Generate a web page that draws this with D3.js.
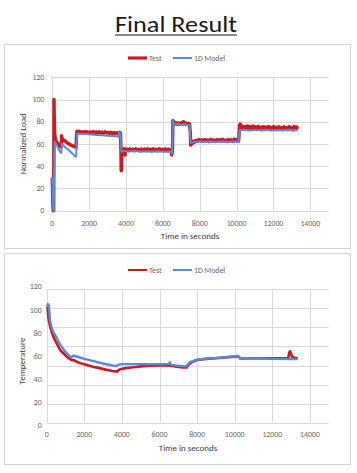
<!DOCTYPE html>
<html><head><meta charset="utf-8">
<script src="https://cdn.jsdelivr.net/npm/d3@7/dist/d3.min.js"></script>
<style>html,body{margin:0;padding:0;background:#fff;}svg{display:block;font-family:Carlito,Calibri,Lato,"Open Sans",sans-serif;}</style>
</head><body><svg id="c" width="357" height="473"></svg>
<script>
const xTicks = [0,2000,4000,6000,8000,10000,12000,14000];
const yTicks = [0,20,40,60,80,100,120];
const seriesNames = ["Test","1D Model"];

const loadTest = [[0,30],[25,8],[45,0],[75,0],[92,100],[105,85],[125,72],[150,66],[190,63],[250,61.5],[320,60],[380,58.5],[440,57.5],[490,58],[505,67.5],[530,65],[580,64],[650,63],[720,62.5],[800,61],[870,60.5],[950,59.5],[1030,59],[1100,58.3],[1180,57.8],[1260,57.2],[1290,57],[1310,66],[1340,71.5],[1400,70.2],[1460,71.4],[1520,70.1],[1600,71],[1680,69.9],[1750,71.2],[1830,70.3],[1900,71.1],[1980,69.8],[2060,70.9],[2140,70],[2220,71.3],[2300,70.1],[2380,70.8],[2460,69.7],[2540,71],[2620,70.2],[2700,70.7],[2780,69.6],[2860,70.9],[2940,69.9],[3020,70.5],[3100,69.4],[3180,70.6],[3260,69.5],[3340,70.4],[3420,69.3],[3500,70.2],[3580,69.2],[3650,70.5],[3700,70],[3725,55],[3740,36],[3760,38],[3780,55],[3840,54],[3900,55.8],[3950,50],[3975,54.5],[4050,55.5],[4130,54.2],[4210,55.7],[4290,54.5],[4370,55.4],[4450,54],[4530,55.6],[4610,54.4],[4690,55.2],[4770,53.9],[4850,55.5],[4930,54.3],[5010,55.4],[5090,54.1],[5170,55.7],[5250,54.5],[5330,55.2],[5410,54],[5490,55.6],[5570,54.3],[5650,55.3],[5730,54],[5810,55.7],[5890,54.4],[5970,55.3],[6050,54.1],[6130,55.6],[6210,54.3],[6290,55.4],[6370,54.2],[6440,55],[6480,50],[6520,54],[6545,81],[6600,79.5],[6660,78],[6720,79],[6790,77.6],[6860,78.8],[6930,77.9],[7000,79.2],[7060,78],[7120,80],[7170,78.2],[7240,78.9],[7310,77.7],[7380,78.6],[7450,77.8],[7490,70],[7510,59],[7540,62],[7580,60],[7640,62.5],[7720,61.6],[7800,63.4],[7880,62.3],[7960,64],[8040,62.6],[8120,63.8],[8200,62.4],[8280,64.1],[8360,62.7],[8440,63.6],[8520,62.3],[8600,64.2],[8680,62.8],[8760,63.5],[8840,62.2],[8920,64],[9000,62.6],[9080,63.9],[9160,62.4],[9240,64.3],[9320,62.7],[9400,63.6],[9480,62.3],[9560,64.1],[9640,62.8],[9720,63.7],[9800,62.2],[9880,64.4],[9960,62.9],[10040,64],[10110,62.5],[10140,70],[10160,76.5],[10200,78],[10260,74.5],[10330,76],[10400,74.2],[10470,75.8],[10540,73.9],[10610,76.2],[10680,74.3],[10750,75.6],[10820,73.8],[10890,76.1],[10960,74.2],[11030,75.5],[11100,73.6],[11170,75.9],[11240,74],[11310,75.3],[11380,72.8],[11450,75.6],[11520,73.9],[11590,75.2],[11660,73.5],[11730,75.8],[11800,73.7],[11870,75.1],[11940,73.4],[12010,75.7],[12080,73.6],[12150,75],[12220,73.2],[12290,75.5],[12360,73.5],[12430,74.9],[12500,73.1],[12570,75.4],[12640,73.3],[12710,74.8],[12780,72.8],[12850,75.6],[12920,73.2],[12990,74.9],[13060,72.6],[13130,75.8],[13200,73],[13270,75.2],[13330,73.5]];

const loadModel = [[0,30],[30,10],[50,0],[80,0],[100,30],[125,62],[180,61],[260,58.5],[340,55.5],[420,53],[470,52],[495,52.5],[515,60],[580,59],[680,57.5],[780,56],[880,54.5],[980,53],[1080,51.5],[1180,50],[1270,48.5],[1300,50],[1330,66],[1360,69.5],[1500,69.2],[1800,68.9],[2100,68.6],[2400,68.2],[2700,67.9],[3000,67.5],[3300,67.1],[3550,66.7],[3600,66.5],[3620,70.5],[3690,70.5],[3720,62],[3750,53],[3900,53.8],[4200,53.2],[4500,53.6],[4800,53.1],[5100,53.5],[5400,53],[5700,53.4],[6000,53.1],[6300,53.3],[6460,53],[6500,51],[6530,72],[6550,80.5],[6600,78.5],[6800,77.8],[7100,77.6],[7400,77.4],[7460,77],[7490,65],[7520,61],[7700,61.8],[8000,62.2],[8300,61.7],[8600,62.3],[8900,61.8],[9200,62.2],[9500,61.7],[9800,62.1],[10100,62],[10130,66],[10170,72.5],[10400,72.8],[10700,72.2],[11000,72.9],[11300,72.3],[11600,72.8],[11900,72.2],[12200,72.7],[12500,72.3],[12800,72.8],[13100,72.3],[13330,72.6]];

const tempTest = [[20,101],[50,102],[70,96],[110,91],[176,86],[260,81],[350,77],[450,73.5],[532,71],[650,67],[750,64.5],[883,62.4],[1000,60.5],[1150,58.3],[1330,56.4],[1450,56.5],[1600,55],[1800,53.8],[2000,52.8],[2400,51],[2800,49.5],[3200,48],[3500,47],[3750,46.5],[3800,47.5],[3900,48.5],[4200,49.5],[4600,50.3],[5000,51],[5500,51.5],[6000,51.8],[6500,52],[6600,51.5],[7000,50.5],[7300,50],[7450,50],[7550,52.5],[7700,54.5],[8000,56.5],[8500,57.5],[9000,58],[9500,58.8],[10000,59.3],[10200,59.6],[10300,58],[11000,57.8],[12000,58],[12850,58.3],[12900,63],[12950,64],[13000,62],[13050,59.5],[13150,58.5],[13350,58]];

const tempModel = [[20,103],[60,105],[110,104],[150,96],[176,90.7],[260,85],[350,81],[450,78],[532,75.8],[650,71.5],[750,69],[883,66],[1000,63.5],[1150,61],[1330,58.8],[1400,60.3],[1500,60],[1800,58.5],[2000,57.5],[2500,55.5],[3000,53.5],[3500,51.8],[3700,51.2],[3800,52.5],[4000,53],[5000,53],[6000,53],[6500,53.2],[6550,54.5],[6600,52.5],[7000,51.5],[7400,51],[7500,52.5],[7650,55],[8000,56.8],[8500,57.8],[9000,58.3],[9500,59],[10000,59.8],[10200,60],[10300,57.5],[11000,57.5],[12000,57.5],[13000,57.3],[13350,57.3]];

const RED = "#cc1a1f", BLUE = "#5a8ad6", GRID = "#d9d9d9", TICK = "#666666", TITLE = "#404040";
const svg = d3.select("#c");

// Title
svg.append("text").attr("x",176).attr("y",32).attr("text-anchor","middle")
  .attr("font-size",23).attr("font-weight",400).attr("fill","#1a1a1a").attr("textLength",122).attr("lengthAdjust","spacingAndGlyphs").text("Final Result");
svg.append("line").attr("x1",115).attr("x2",237).attr("y1",35).attr("y2",35).attr("stroke","#1a1a1a").attr("stroke-width",1.2);

// panels
svg.append("rect").attr("x",4.5).attr("y",44.5).attr("width",346).attr("height",204).attr("fill","none").attr("stroke","#d4d4d4");
svg.append("rect").attr("x",4.5).attr("y",253.5).attr("width",346).attr("height",211).attr("fill","none").attr("stroke","#d4d4d4");

function chart(cfg){
  const g = svg.append("g");
  const x = d3.scaleLinear().domain([0,15000]).range([cfg.x0, cfg.x1]);
  const y = d3.scaleLinear().domain([0,120]).range([cfg.y0, cfg.y1]);
  const grid = d3.scaleLinear().domain([0,cfg.nGrid]).range([cfg.gy0, cfg.gy1]);
  g.selectAll(".hg").data(d3.range(cfg.nGrid+1)).join("line")
    .attr("x1",cfg.x0).attr("x2",cfg.x1).attr("y1",d=>Math.round(grid(d))+0.5).attr("y2",d=>Math.round(grid(d))+0.5)
    .attr("stroke",GRID).attr("stroke-width",1);
  g.selectAll(".vg").data(xTicks).join("line")
    .attr("x1",d=>Math.round(x(d))+0.5).attr("x2",d=>Math.round(x(d))+0.5).attr("y1",cfg.gy0).attr("y2",cfg.gy1)
    .attr("stroke",GRID).attr("stroke-width",1);
  g.selectAll(".yl").data(yTicks).join("text")
    .attr("x",cfg.x0-cfg.yLabGap).attr("y",d=>y(d)).attr("dy","0.35em").attr("text-anchor","end")
    .attr("font-size",7.8).attr("fill",TICK).text(d=>d);
  g.selectAll(".xl").data(xTicks).join("text")
    .attr("x",d=>x(d)).attr("y",cfg.gy0+cfg.xLabGap).attr("text-anchor","middle")
    .attr("font-size",7.8).attr("fill",TICK).text(d=>d);
  g.append("text").attr("x",cfg.xTitleX).attr("y",cfg.xTitleY).attr("text-anchor","middle")
    .attr("font-size",9).attr("fill",TITLE).text("Time in seconds");
  g.append("text").attr("transform",`translate(${cfg.yTitleX},${cfg.yTitleY}) rotate(-90)`).attr("text-anchor","middle")
    .attr("font-size",9).attr("fill",TITLE).text(cfg.yTitle);
  const line = d3.line().x(d=>x(d[0])).y(d=>y(d[1]));
  g.append("path").datum(cfg.test).attr("d",line).attr("fill","none").attr("stroke",RED)
    .attr("stroke-width",cfg.wTest).attr("stroke-linejoin","round");
  g.append("path").datum(cfg.model).attr("d",line).attr("fill","none").attr("stroke",BLUE)
    .attr("stroke-width",cfg.wModel).attr("stroke-linejoin","round");
  const lg = g.append("g");
  const items = [{n:seriesNames[0],c:RED,w:cfg.wLegTest,x:128},{n:seriesNames[1],c:BLUE,w:cfg.wLegModel,x:173}];
  items.forEach(it=>{
    lg.append("line").attr("x1",it.x).attr("x2",it.x+19).attr("y1",cfg.legY).attr("y2",cfg.legY)
      .attr("stroke",it.c).attr("stroke-width",it.w);
    lg.append("text").attr("x",it.x+21).attr("y",cfg.legY).attr("dy","0.35em").attr("font-size",7.8)
      .attr("fill",TICK).text(it.n);
  });
}

chart({x0:52.3,x1:328.7,y0:210.7,y1:77.3,nGrid:6,gy0:210.7,gy1:77.3,yLabGap:8,xLabGap:15,
  xTitleX:190,xTitleY:239,yTitleX:26,yTitleY:144,yTitle:"Normalized Load",
  test:loadTest,model:loadModel,wTest:3.4,wModel:2,wLegTest:3.2,wLegModel:2,legY:58});

chart({x0:46.7,x1:328.7,y0:425.3,y1:286.7,nGrid:7,gy0:422.7,gy1:289.3,yLabGap:5,xLabGap:14,
  xTitleX:188,xTitleY:451,yTitleX:25,yTitleY:361,yTitle:"Temperature",
  test:tempTest,model:tempModel,wTest:2.6,wModel:2.4,wLegTest:2,wLegModel:2,legY:270});
</script></body></html>
